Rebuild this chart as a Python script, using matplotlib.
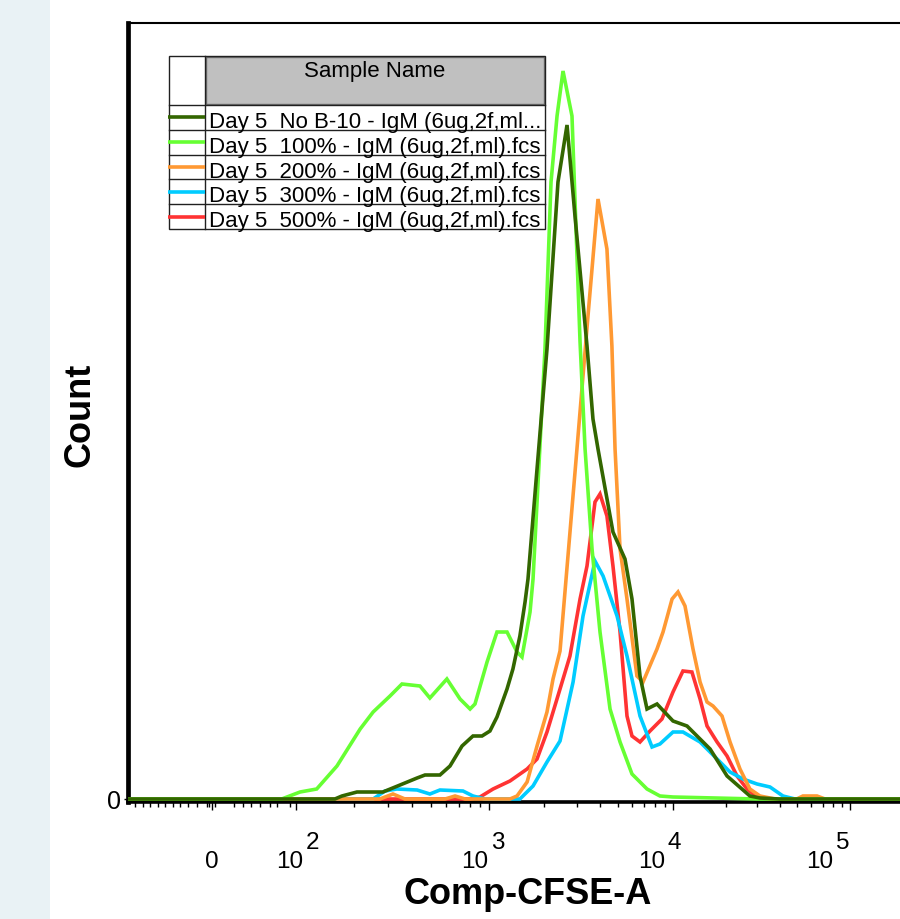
import numpy as np
import matplotlib
matplotlib.use("Agg")
import matplotlib.pyplot as plt
from matplotlib.patches import Rectangle
from matplotlib.lines import Line2D
from matplotlib.ticker import FixedLocator, NullFormatter
from matplotlib.transforms import Affine2D, ScaledTranslation, blended_transform_factory

plt.rcParams['font.family'] = ['Liberation Sans', 'DejaVu Sans']

# histogram data (CFSE intensity, count)
x_nob10 = [-100, 159, 173, 207, 282, 346, 424, 466, 557, 628, 725, 826, 920, 1012, 1105, 1253,
           1349, 1472, 1570, 1629, 1824, 2066, 2371, 2655, 2933, 3409, 3673, 3912, 4718, 5483,
           5986, 6617, 7223, 8185, 10000, 12000, 16200, 20200, 27200, 31000, 40000, 262144]
y_nob10 = [0, 0, 3, 7, 7, 14, 21, 24, 24, 33, 53, 63, 63, 68, 82, 110,
           130, 163, 197, 220, 330, 450, 617, 674, 583, 453, 380, 350, 267, 240,
           200, 123, 90, 95, 78, 73, 50, 23, 3, 1, 0, 0]

x_100 = [-100, 83, 105, 128, 163, 215, 251, 307, 354, 439, 494, 605, 708, 798, 846, 977,
         1105, 1253, 1420, 1511, 1671, 1735, 1893, 2015, 2173, 2343, 2525, 2825, 3125, 3327,
         3631, 4011, 4548, 5155, 5986, 7223, 8492, 10000, 29850, 262144]
y_100 = [0, 0, 7, 10, 33, 70, 87, 103, 115, 113, 101, 120, 100, 90, 95, 137,
         167, 167, 147, 142, 187, 220, 354, 450, 617, 683, 728, 683, 457, 350,
         250, 167, 90, 57, 25, 10, 3, 2, 0, 0]

x_200 = [-100, 272, 318, 367, 592, 667, 752, 1300, 1420, 1611, 1824, 2066, 2228, 2432, 3006,
         3451, 3912, 4375, 4656, 4842, 5155, 5623, 6368, 6871, 8185, 8828, 9886, 10670, 11690,
         12970, 14220, 15570, 16830, 18920, 21000, 23900, 27200, 31000, 37700, 50000, 54200,
         65100, 72300, 262144]
y_200 = [0, 0, 5, 0, 0, 3, 0, 0, 3, 17, 53, 87, 120, 148, 350,
         483, 600, 550, 453, 350, 250, 200, 123, 117, 150, 167, 200, 207, 193,
         150, 117, 97, 93, 83, 57, 30, 10, 3, 0, 0, 3,
         3, 0, 0]

x_300 = [-100, 251, 289, 333, 424, 494, 557, 733, 826, 953, 1472, 1735, 2066, 2432, 2864, 3243,
         3767, 4169, 4966, 5623, 6617, 7691, 8492, 10000, 11380, 14220, 17740, 21000, 24850,
         29850, 35320, 41800, 48900, 262144]
y_300 = [0, 0, 8, 10, 9, 5, 9, 8, 3, 0, 0, 13, 37, 58, 117, 183,
         238, 223, 183, 143, 83, 52, 55, 67, 67, 57, 40, 27, 20,
         15, 12, 3, 0, 0]

x_500 = [-100, 800, 898, 1052, 1300, 1611, 1824, 2066, 2432, 2754, 3125, 3409, 3767, 4011, 4375,
         4718, 5155, 5623, 5986, 6617, 7499, 8710, 10000, 11380, 12790, 14220, 15570, 17740,
         20200, 23000, 26200, 29850, 35000, 262144]
y_500 = [0, 0, 2, 10, 18, 30, 40, 67, 110, 143, 200, 233, 297, 305, 283,
         233, 167, 83, 63, 57, 68, 80, 107, 128, 127, 100, 73, 57,
         43, 23, 10, 2, 0, 0]

labels = ['Day 5  No B-10 - IgM (6ug,2f,ml...',
          'Day 5  100% - IgM (6ug,2f,ml).fcs',
          'Day 5  200% - IgM (6ug,2f,ml).fcs',
          'Day 5  300% - IgM (6ug,2f,ml).fcs',
          'Day 5  500% - IgM (6ug,2f,ml).fcs']
colors = ['#336600', '#66ff33', '#ff9933', '#00ccff', '#ff3333']
series = [(x_nob10, y_nob10), (x_100, y_100), (x_200, y_200), (x_300, y_300), (x_500, y_500)]

major_ticks = [0, 100, 1000, 10000, 100000]
decade_ticks = [100, 1000, 10000, 100000]
decade_exps = ['2', '3', '4', '5']
base_shift = [7, -1, -8, -17]   # pixels, where "10" ends relative to its tick
minor_ticks = ([-92, -82, -74, -64, -56, -46, -38, -28, -18, -6, -3, 4, 26, 37, 47, 57, 69, 77, 93]
               + [200, 300, 400, 500, 600, 700, 800, 900]
               + [2000, 3000, 4000, 5000, 6000, 7000, 8000, 9000]
               + [20000, 30000, 40000, 50000, 60000, 70000, 80000, 90000, 200000])


# biexponential-like display scale: linear around zero, log above 100
V = np.array([-100, 0, 100, 1e3, 1e4, 1e5, 262144])
P = np.array([128, 212, 296, 489, 673, 850, 924], dtype=float)


def _h(x):
    x = np.asarray(x, float)
    a = np.abs(x)
    return np.where(a <= 100, x / 50, np.sign(x) * np.log10(np.maximum(a, 100)))


def _hinv(u):
    u = np.asarray(u, float)
    a = np.abs(u)
    return np.where(a <= 2, u * 50, np.sign(u) * 10 ** np.clip(a, 2, 12))


def _interp(x, xp, fp):
    y = np.interp(x, xp, fp)
    y = np.where(x < xp[0], fp[0] + (x - xp[0]) * (fp[1] - fp[0]) / (xp[1] - xp[0]), y)
    y = np.where(x > xp[-1], fp[-1] + (x - xp[-1]) * (fp[-1] - fp[-2]) / (xp[-1] - xp[-2]), y)
    return y


HV = _h(V)


def forward(x):
    return _interp(_h(x), HV, P)


def inverse(p):
    return _hinv(_interp(np.asarray(p, float), P, HV))


W, H = 900, 920
fig = plt.figure(figsize=(W / 100, H / 100), dpi=100)
pix = Affine2D().scale(1 / 100, -1 / 100).translate(0, H / 100) + fig.dpi_scale_trans

fig.add_artist(Rectangle((0, 0), 50, H, transform=pix, facecolor='#e9f2f5', edgecolor='none', zorder=0))

ax = fig.add_axes([128 / W, (H - 803) / H, (924 - 128) / W, (803 - 24) / H])
ax.set_xscale('function', functions=(forward, inverse))
ax.set_xlim(-100, 262144)
ax.set_ylim(-3, 776)

for (xs, ys), c in reversed(list(zip(series, colors))):
    ax.plot(xs, ys, color=c, lw=2.6, zorder=3, solid_joinstyle='miter')

ax.spines['right'].set_visible(False)
ax.spines['left'].set_linewidth(3.4)
ax.spines['top'].set_linewidth(1.5)
ax.spines['bottom'].set_linewidth(2.6)
ax.spines['bottom'].set_zorder(2)

ax.xaxis.set_major_locator(FixedLocator(major_ticks))
ax.xaxis.set_minor_locator(FixedLocator(minor_ticks))
ax.xaxis.set_minor_formatter(NullFormatter())
ax.tick_params(axis='x', which='major', length=6, width=1, direction='out', labelbottom=False)
ax.tick_params(axis='x', which='minor', length=3.5, width=1, direction='out')
ax.set_yticks([0])
ax.set_yticklabels(['0'])
ax.tick_params(axis='y', which='major', length=3, width=1, labelsize=18, pad=2)

xpix = blended_transform_factory(ax.transData, pix)
ax.text(0, 868, '0', transform=xpix, ha='center', va='baseline', fontsize=17.5, clip_on=False)
for v, e, dx in zip(decade_ticks, decade_exps, base_shift):
    tb = xpix + ScaledTranslation(dx / 100, 0, fig.dpi_scale_trans)
    te = xpix + ScaledTranslation((dx + 3) / 100, 0, fig.dpi_scale_trans)
    ax.text(v, 868, '10', transform=tb, ha='right', va='baseline', fontsize=17.5, clip_on=False)
    ax.text(v, 849, e, transform=te, ha='left', va='baseline', fontsize=17.5, clip_on=False)

fig.text(80, 415, 'Count', transform=pix, rotation=90, ha='center', va='center',
         fontsize=26, fontweight='bold')
fig.text(528, 904, 'Comp-CFSE-A', transform=pix, ha='center', va='baseline',
         fontsize=26, fontweight='bold')

# sample table in the upper left
tx0, tx1, tcol = 169, 545, 205
ttop, thead = 57, 106
row_h = 24.8
fig.add_artist(Rectangle((tx0, ttop), tx1 - tx0, thead - ttop + row_h * 5, transform=pix,
                         facecolor='white', edgecolor='none', zorder=5))
fig.add_artist(Rectangle((tcol + 1, ttop + 1), tx1 - tcol - 2, thead - ttop - 2, transform=pix,
                         facecolor='#c0c0c0', edgecolor='#707070', lw=1, zorder=6))
fig.add_artist(Rectangle((tx0, ttop), tx1 - tx0, thead - ttop + row_h * 5, transform=pix,
                         facecolor='none', edgecolor='#202020', lw=1, zorder=7))
fig.add_artist(Line2D([tcol, tcol], [ttop, thead + row_h * 5], transform=pix,
                      color='#202020', lw=1, zorder=7))
fig.text((tcol + tx1) / 2, 77, 'Sample Name', transform=pix, ha='center', va='baseline',
         fontsize=16, zorder=8)
for i, (lab, c) in enumerate(zip(labels, colors)):
    top = thead + i * row_h
    fig.add_artist(Line2D([tx0, tx1], [top, top], transform=pix, color='#202020', lw=1, zorder=7))
    fig.add_artist(Line2D([tx0 - 1, tcol], [top + row_h / 2] * 2, transform=pix, color=c,
                          lw=2.6, zorder=8, solid_capstyle='butt'))
    fig.text(209, top + 22, lab, transform=pix, ha='left', va='baseline', fontsize=16, zorder=8)

fig.savefig('out.png', dpi=100)
